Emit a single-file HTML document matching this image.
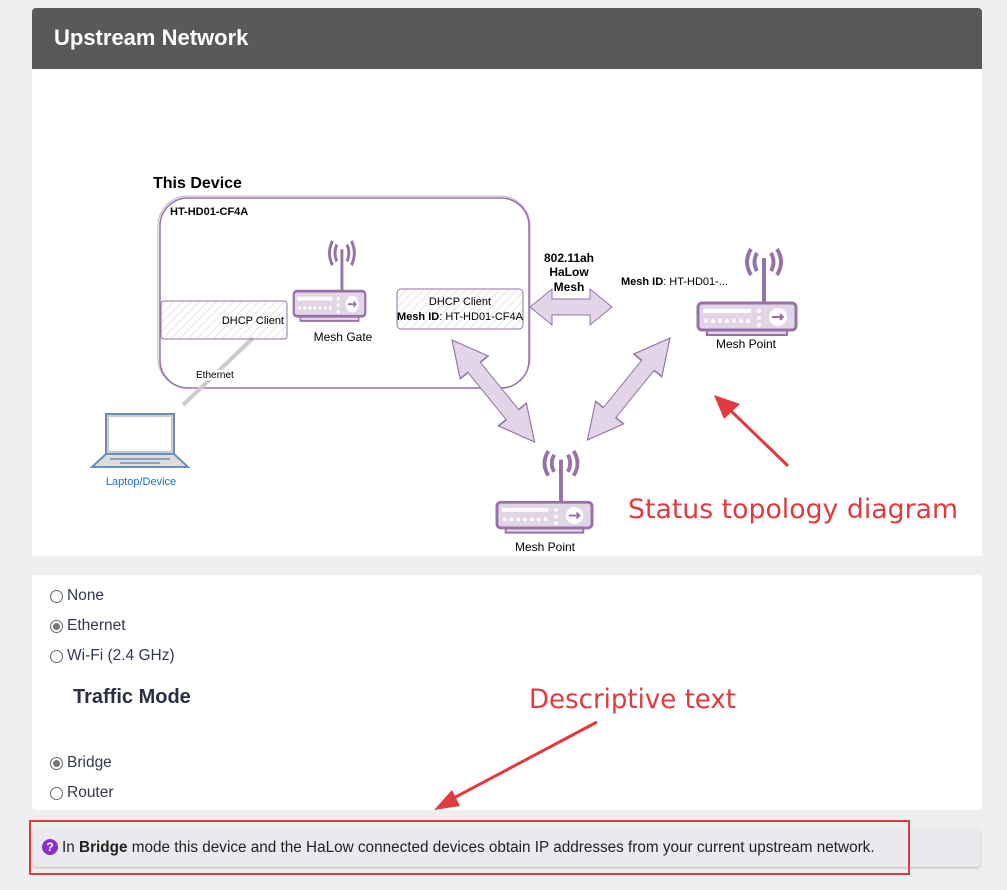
<!DOCTYPE html>
<html><head><meta charset="utf-8">
<style>
body{margin:0;background:#efefef;width:1007px;height:890px;position:relative;font-family:"Liberation Sans",Arial,sans-serif;overflow:hidden}
.hdr{position:absolute;left:32px;top:8px;width:950px;height:61px;background:#595959;border-radius:4px 4px 0 0;color:#fff;font-weight:bold;font-size:22px;line-height:60px;padding-left:22px;box-sizing:border-box}
.card{position:absolute;left:32px;top:69px;width:950px;height:487px;background:#fff}
.card2{position:absolute;left:32px;top:575px;width:950px;height:235px;background:#fff;border-radius:4px}
.r{position:absolute;left:50px;font-size:15.5px;color:#333a4d;display:flex;align-items:center}
.r i{display:inline-block;width:13px;height:13px;border:1px solid #666;border-radius:50%;margin-right:4px;box-sizing:border-box;position:relative}
.r i.on::after{content:"";position:absolute;left:2px;top:2px;width:7px;height:7px;border-radius:50%;background:#777}
.tm{position:absolute;left:73px;top:686px;font-size:20px;font-weight:bold;color:#2a2f45}
.info{position:absolute;left:33px;top:829px;width:947px;height:38px;background:#e8eaed;border-radius:3px;box-shadow:0 1px 2px #bbb;font-size:15.3px;color:#222;line-height:38px;padding-left:9px;box-sizing:border-box}
.q{display:inline-block;width:16px;height:16px;border-radius:50%;background:#8a2fc9;color:#fff;font-size:12px;font-weight:bold;text-align:center;line-height:16px;vertical-align:1px;margin-right:4px}
.redbox{position:absolute;left:29px;top:820px;width:881px;height:55px;border:2px solid #e0393e;box-sizing:border-box}
</style></head><body>
<div class="hdr">Upstream Network</div>
<div class="card"></div>
<svg style="position:absolute;left:0;top:0" width="1007" height="890">
<defs>
<pattern id="h" width="6" height="6" patternUnits="userSpaceOnUse" patternTransform="rotate(45)"><line x1="0" y1="0" x2="0" y2="6" stroke="#ddd" stroke-width="1.5"/></pattern>
<g id="rt">
<line x1="67" y1="10" x2="67" y2="55" stroke="#9673a6" stroke-width="4"/>
<path d="M60 5 Q55 14 60 23 M74 5 Q79 14 74 23 M54 1 Q46 14 54 27 M80 1 Q88 14 80 27" fill="none" stroke="#9673a6" stroke-width="4"/>
<rect x="10" y="80" width="80" height="7" fill="#e1d5e7" stroke="#9673a6" stroke-width="2"/>
<rect x="1" y="55" width="98" height="27" rx="4" fill="#e1d5e7" stroke="#9673a6" stroke-width="3"/>
<g fill="#fff"><rect x="6" y="61" width="48" height="4"/><circle cx="9" cy="73" r="2"/><circle cx="16" cy="73" r="2"/><circle cx="23" cy="73" r="2"/><circle cx="30" cy="73" r="2"/><circle cx="37" cy="73" r="2"/><circle cx="44" cy="73" r="2"/><circle cx="51" cy="73" r="2"/><circle cx="62" cy="63" r="2"/><circle cx="62" cy="70" r="2"/><circle cx="62" cy="77" r="2"/><circle cx="81" cy="69" r="9"/></g>
<path d="M75 69 H86 M83 66 L86 69 L83 72" stroke="#9673a6" stroke-width="2" fill="none"/>
</g>
<path id="da" d="M0 0 L22 -18 L22 -8 L60 -8 L60 -18 L82 0 L60 18 L60 8 L22 8 L22 18 Z" fill="#e1d5e7" stroke="#9673a6" stroke-width="1"/>
</defs>
<text x="153" y="188" font-size="16" font-weight="bold">This Device</text>
<rect x="160" y="198" width="369" height="190" rx="28" fill="none" stroke="#9673a6" stroke-width="1.5"/>
<rect x="158" y="196" width="372" height="192" rx="30" fill="none" stroke="#9673a6" stroke-width="1" opacity=".6"/>
<text x="170" y="215" font-size="11" font-weight="bold">HT-HD01-CF4A</text>
<line x1="253" y1="338" x2="183" y2="405" stroke="#ccc" stroke-width="4"/>
<rect x="161" y="301" width="126" height="38" rx="3" fill="url(#h)" stroke="#9673a6"/>
<text x="284" y="324" font-size="11" text-anchor="end">DHCP Client</text>
<rect x="397" y="289" width="126" height="40" rx="4" fill="url(#h)" stroke="#9673a6"/>
<text x="460" y="305" font-size="11" text-anchor="middle">DHCP Client</text>
<text x="460" y="320" font-size="11" text-anchor="middle"><tspan font-weight="bold">Mesh ID</tspan>: HT-HD01-CF4A</text>
<rect x="202" y="370" width="50" height="10" fill="#fff"/>
<text x="196" y="378" font-size="10">Ethernet</text>
<use href="#rt" transform="translate(293,240) scale(0.73,0.93)"/>
<text x="343" y="341" font-size="12" text-anchor="middle">Mesh Gate</text>
<use href="#rt" transform="translate(697,248)"/>
<text x="746" y="348" font-size="12" text-anchor="middle">Mesh Point</text>
<use href="#rt" transform="translate(496,450) scale(0.97,0.95)"/>
<text x="545" y="551" font-size="12" text-anchor="middle">Mesh Point</text>
<text x="569" y="262" font-size="12" font-weight="bold" text-anchor="middle">802.11ah</text>
<text x="569" y="276" font-size="12" font-weight="bold" text-anchor="middle">HaLow</text>
<text x="569" y="291" font-size="12" font-weight="bold" text-anchor="middle">Mesh</text>
<text x="621" y="285" font-size="11"><tspan font-weight="bold">Mesh ID</tspan>: HT-HD01-...</text>
<use href="#da" transform="translate(530,307)"/>
<use href="#da" transform="translate(452,340) rotate(51) scale(1.6,1)"/>
<use href="#da" transform="translate(670,338) rotate(129) scale(1.6,1)"/>
<g stroke="#6c8ebf" stroke-width="2" fill="#ddd">
<rect x="106" y="414" width="68" height="40" fill="#fff"/>
<rect x="108" y="416" width="64" height="36" fill="#fff" stroke="#ccc"/>
<path d="M106 454 L174 454 L188 467 L92 467 Z" fill="#ddd"/>
</g>
<line x1="110" y1="459" x2="170" y2="459" stroke="#6c8ebf" stroke-width="1.5"/>
<line x1="120" y1="463" x2="160" y2="463" stroke="#6c8ebf" stroke-width="1.5"/>
<text x="141" y="485" font-size="11" fill="#1a6fc9" text-anchor="middle">Laptop/Device</text>
<text x="628" y="518" font-size="27" fill="#e0393e" font-family="'DejaVu Sans',sans-serif" textLength="330" lengthAdjust="spacingAndGlyphs">Status topology diagram</text>
<line x1="788" y1="466" x2="728" y2="408" stroke="#e0393e" stroke-width="3"/>
<path d="M714 395 L740 404 L724 419 Z" fill="#e0393e"/>
</svg>
<div class="card2"></div>
<div class="r" style="top:587px"><i></i>None</div>
<div class="r" style="top:617px"><i class="on"></i>Ethernet</div>
<div class="r" style="top:647px"><i></i>Wi-Fi (2.4 GHz)</div>
<div class="tm">Traffic Mode</div>
<div class="r" style="top:754px"><i class="on"></i>Bridge</div>
<div class="r" style="top:784px"><i></i>Router</div>
<div class="info"><span class="q">?</span>In <b>Bridge</b> mode this device and the HaLow connected devices obtain IP addresses from your current upstream network.</div>
<div class="redbox"></div>
<svg style="position:absolute;left:0;top:0" width="1007" height="890">
<text x="529" y="708" font-size="27" fill="#e0393e" font-family="'DejaVu Sans',sans-serif" textLength="207" lengthAdjust="spacingAndGlyphs">Descriptive text</text>
<line x1="597" y1="722" x2="450" y2="800" stroke="#e0393e" stroke-width="3"/>
<path d="M434 810 L452 790 L460 806 Z" fill="#e0393e"/>
</svg>
</body></html>
